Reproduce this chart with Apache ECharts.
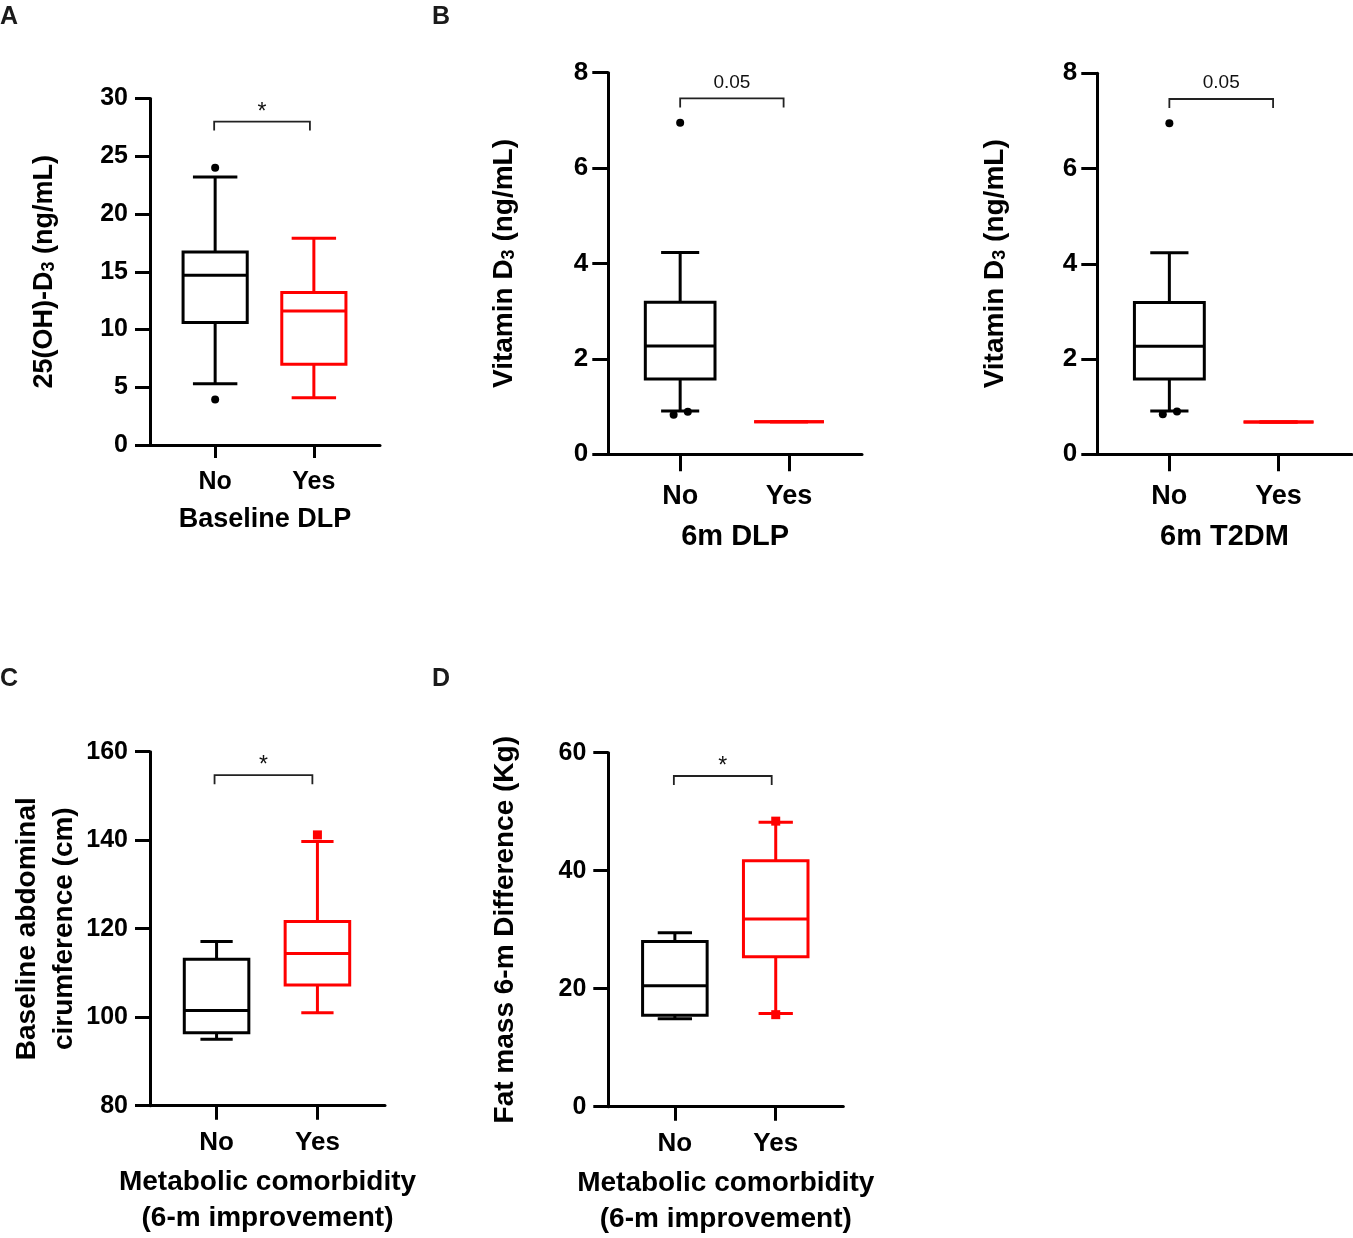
<!DOCTYPE html>
<html><head><meta charset="utf-8">
<script src="https://cdn.jsdelivr.net/npm/echarts@6/dist/echarts.min.js"></script>
<style>html,body{margin:0;padding:0;background:#fff}#c{width:1353px;height:1238px}</style>
</head><body><div id="c"></div>
<script>
// ---------- data ----------
const groups = ['No', 'Yes'];
const groupColors = ['#000000', '#ff0000'];

// box stats per group: [min, Q1, median, Q3, max]
const boxA = [[5.3, 10.6, 14.7, 16.7, 23.2], [4.1, 7.0, 11.6, 13.2, 17.9]];
const outlierA = [[1, 24.0], [1, 3.95]];
const sigA = [0.99, 1.96, 28.0, '*'];
const yTicksA = [0, 5, 10, 15, 20, 25, 30];

const boxB = [[0.91, 1.58, 2.27, 3.19, 4.23], [0.68, 0.68, 0.68, 0.68, 0.68]];
const outlierB = [[1, 6.95], [0.94, 0.83], [1.07, 0.89]];
const sigB = [1.0, 1.95, 7.46, '0.05'];
const yTicksB = [0, 2, 4, 6, 8];

const boxT = [[0.91, 1.58, 2.27, 3.19, 4.23], [0.68, 0.68, 0.68, 0.68, 0.68]];
const outlierT = [[1, 6.95], [0.94, 0.84], [1.07, 0.90]];
const sigT = [1.0, 1.95, 7.46, '0.05'];
const yTicksT = [0, 2, 4, 6, 8];

const boxC = [[95.0, 96.5, 101.5, 113.1, 117.1], [101.0, 107.3, 114.4, 121.6, 139.7]];
const outlierC = [[2, 141.2]];
const sigC = [0.98, 1.95, 154.7, '*'];
const yTicksC = [80, 100, 120, 140, 160];

const boxD = [[14.9, 15.5, 20.5, 28.0, 29.5], [15.8, 25.4, 31.8, 41.7, 48.2]];
const outlierD = [[2, 48.4], [2, 15.6]];
const sigD = [0.99, 1.96, 56.05, '*'];
const yTicksD = [0, 20, 40, 60];

// ---------- layout / style ----------
const FONT = "'Liberation Sans', Arial, Helvetica, sans-serif";

const panels = [
  { box: boxA, out: outlierA, sig: sigA, ticks: yTicksA, outSymbol: 'circle', outColor: '#000',
    grid: { left: 150, top: 98.5, width: 230, height: 346.5 },
    hw: 0.325, cw: 0.225,
    yName: '25(OH)-D{sub|3} (ng/mL)', yNameGap: 92, yNameSize: 27, yLabelSize: 25, yLabelMargin: 22, yTickLen: 15,
    xName: 'Baseline DLP', xNameGap: 61, xNameSize: 27, xLabelSize: 25, xLabelMargin: 25, xTickLen: 13 },
  { box: boxB, out: outlierB, sig: sigB, ticks: yTicksB, outSymbol: 'circle', outColor: '#000',
    grid: { left: 608.3, top: 72.7, width: 253.7, height: 381.6 },
    hw: 0.32, cw: 0.175,
    yName: 'Vitamin D{sub|3} (ng/mL)', yNameGap: 90, yNameSize: 28, yLabelSize: 26, yLabelMargin: 20, yTickLen: 16,
    xName: '6m DLP', xNameGap: 68, xNameSize: 29, xLabelSize: 27, xLabelMargin: 29, xTickLen: 17 },
  { box: boxT, out: outlierT, sig: sigT, ticks: yTicksT, outSymbol: 'circle', outColor: '#000',
    grid: { left: 1097.3, top: 73.3, width: 254.4, height: 381 },
    hw: 0.32, cw: 0.175,
    yName: 'Vitamin D{sub|3} (ng/mL)', yNameGap: 88, yNameSize: 28, yLabelSize: 26, yLabelMargin: 20, yTickLen: 16,
    xName: '6m T2DM', xNameGap: 68, xNameSize: 29, xLabelSize: 27, xLabelMargin: 29, xTickLen: 17 },
  { box: boxC, out: outlierC, sig: sigC, ticks: yTicksC, outSymbol: 'rect', outColor: '#ff0000',
    grid: { left: 150, top: 751.7, width: 235, height: 354 },
    hw: 0.32, cw: 0.16,
    yName: 'Baseline abdominal\ncirumference (cm)', yNameGap: 64, yNameSize: 28, yNameLH: 37, yLabelSize: 25, yLabelMargin: 22, yTickLen: 15,
    xName: 'Metabolic comorbidity\n(6-m improvement)', xNameGap: 59, xNameSize: 28, xNameLH: 36, xLabelSize: 26, xLabelMargin: 24, xTickLen: 14 },
  { box: boxD, out: outlierD, sig: sigD, ticks: yTicksD, outSymbol: 'rect', outColor: '#ff0000',
    grid: { left: 608.3, top: 752.7, width: 235, height: 354 },
    hw: 0.32, cw: 0.17,
    yName: 'Fat mass 6-m Difference (Kg)', yNameGap: 89, yNameSize: 28, yLabelSize: 25, yLabelMargin: 22, yTickLen: 15,
    xName: 'Metabolic comorbidity\n(6-m improvement)', xNameGap: 59, xNameSize: 28, xNameLH: 36, xLabelSize: 26, xLabelMargin: 24, xTickLen: 14 }
];

const X_MIN = 0.34, X_MAX = 2.67;

function boxRenderer(hw, cw) {
  return function (params, api) {
    const x = api.value(0), lo = api.value(1), q1 = api.value(2), med = api.value(3), q3 = api.value(4), hi = api.value(5);
    const color = groupColors[params.dataIndex];
    const st = { stroke: color, lineWidth: 3, fill: 'none' };
    const L = api.coord([x - hw, q3]), R = api.coord([x + hw, q1]);
    const ym = api.coord([x, med])[1];
    const yhi = api.coord([x, hi])[1], ylo = api.coord([x, lo])[1];
    const cx = api.coord([x, med])[0];
    const cl = api.coord([x - cw, hi])[0], cr = api.coord([x + cw, hi])[0];
    return { type: 'group', children: [
      { type: 'line', shape: { x1: cx, y1: L[1], x2: cx, y2: yhi }, style: st },
      { type: 'line', shape: { x1: cx, y1: R[1], x2: cx, y2: ylo }, style: st },
      { type: 'line', shape: { x1: cl, y1: yhi, x2: cr, y2: yhi }, style: st },
      { type: 'line', shape: { x1: cl, y1: ylo, x2: cr, y2: ylo }, style: st },
      { type: 'rect', shape: { x: L[0], y: L[1], width: R[0] - L[0], height: R[1] - L[1] }, style: { stroke: color, lineWidth: 3, fill: '#fff' } },
      { type: 'line', shape: { x1: L[0], y1: ym, x2: R[0], y2: ym }, style: st }
    ]};
  };
}

function bracketRenderer(label) {
  return function (params, api) {
    const a = api.coord([api.value(0), api.value(2)]);
    const b = api.coord([api.value(1), api.value(2)]);
    const drop = 9;
    const off = label === '*' ? 9 : 16;
    return { type: 'group', children: [
      { type: 'polyline', shape: { points: [[a[0], a[1] + drop], a, b, [b[0], b[1] + drop]] },
        style: { stroke: '#222', lineWidth: 1.8, fill: 'none' } },
      { type: 'text', x: (a[0] + b[0]) / 2, y: a[1] - off,
        style: { text: label, fill: '#111', fontFamily: FONT, fontSize: label === '*' ? 23 : 19,
                 align: 'center', verticalAlign: 'middle' } }
    ]};
  };
}

const grids = [], xAxes = [], yAxes = [], series = [];
panels.forEach((p, i) => {
  grids.push(Object.assign({ outerBoundsMode: 'none', containLabel: false }, p.grid));
  xAxes.push({
    gridIndex: i, type: 'value', min: X_MIN, max: X_MAX,
    axisLine: { show: true, lineStyle: { color: '#000', width: 3 } },
    axisTick: { show: true, customValues: [1, 2], length: p.xTickLen, lineStyle: { color: '#000', width: 3 } },
    axisLabel: { customValues: [1, 2], formatter: v => groups[Math.round(v) - 1] || '', margin: p.xLabelMargin,
                 color: '#000', fontFamily: FONT, fontWeight: 'bold', fontSize: p.xLabelSize },
    splitLine: { show: false },
    name: p.xName, nameLocation: 'middle', nameGap: p.xNameGap,
    nameTextStyle: { color: '#000', fontFamily: FONT, fontWeight: 'bold', fontSize: p.xNameSize, lineHeight: p.xNameLH || p.xNameSize }
  });
  const t = p.ticks;
  yAxes.push({
    gridIndex: i, type: 'value', min: t[0], max: t[t.length - 1], interval: t[1] - t[0],
    axisLine: { show: true, lineStyle: { color: '#000', width: 3 } },
    axisTick: { show: true, length: p.yTickLen, lineStyle: { color: '#000', width: 3 } },
    axisLabel: { margin: p.yLabelMargin, color: '#000', fontFamily: FONT, fontWeight: 'bold', fontSize: p.yLabelSize },
    splitLine: { show: false },
    name: p.yName, nameLocation: 'middle', nameGap: p.yNameGap,
    nameTextStyle: { color: '#000', fontFamily: FONT, fontWeight: 'bold', fontSize: p.yNameSize,
      lineHeight: p.yNameLH || p.yNameSize,
      rich: { sub: { fontFamily: FONT, fontWeight: 'bold', fontSize: 18, color: '#000', lineHeight: 2, verticalAlign: 'bottom' } } }
  });
  series.push({
    type: 'custom', xAxisIndex: i, yAxisIndex: i, clip: false,
    renderItem: boxRenderer(p.hw, p.cw),
    data: p.box.map((s, k) => [k + 1].concat(s)),
    encode: { x: 0, y: [1, 2, 3, 4, 5] }, z: 2
  });
  series.push({
    type: 'scatter', xAxisIndex: i, yAxisIndex: i, symbol: p.outSymbol, symbolSize: p.outSymbol === 'rect' ? 9 : 8,
    itemStyle: { color: p.outColor, opacity: 1 }, data: p.out, z: 3
  });
  series.push({
    type: 'custom', xAxisIndex: i, yAxisIndex: i, clip: false,
    renderItem: bracketRenderer(p.sig[3]),
    data: [[p.sig[0], p.sig[1], p.sig[2]]],
    encode: { x: [0, 1], y: 2 }, z: 3
  });
});

const letters = [['A', 0, 5], ['B', 432, 5], ['C', 0, 667], ['D', 432, 667]];

const chart = echarts.init(document.getElementById('c'), null, { renderer: 'canvas' });
chart.setOption({
  animation: false,
  backgroundColor: '#ffffff',
  grid: grids, xAxis: xAxes, yAxis: yAxes, series: series,
  graphic: letters.map(l => ({ type: 'text', left: l[1], top: l[2],
    style: { text: l[0], fill: '#1a1a1a', fontFamily: FONT, fontWeight: 'bold', fontSize: 25 } }))
});
</script></body></html>
